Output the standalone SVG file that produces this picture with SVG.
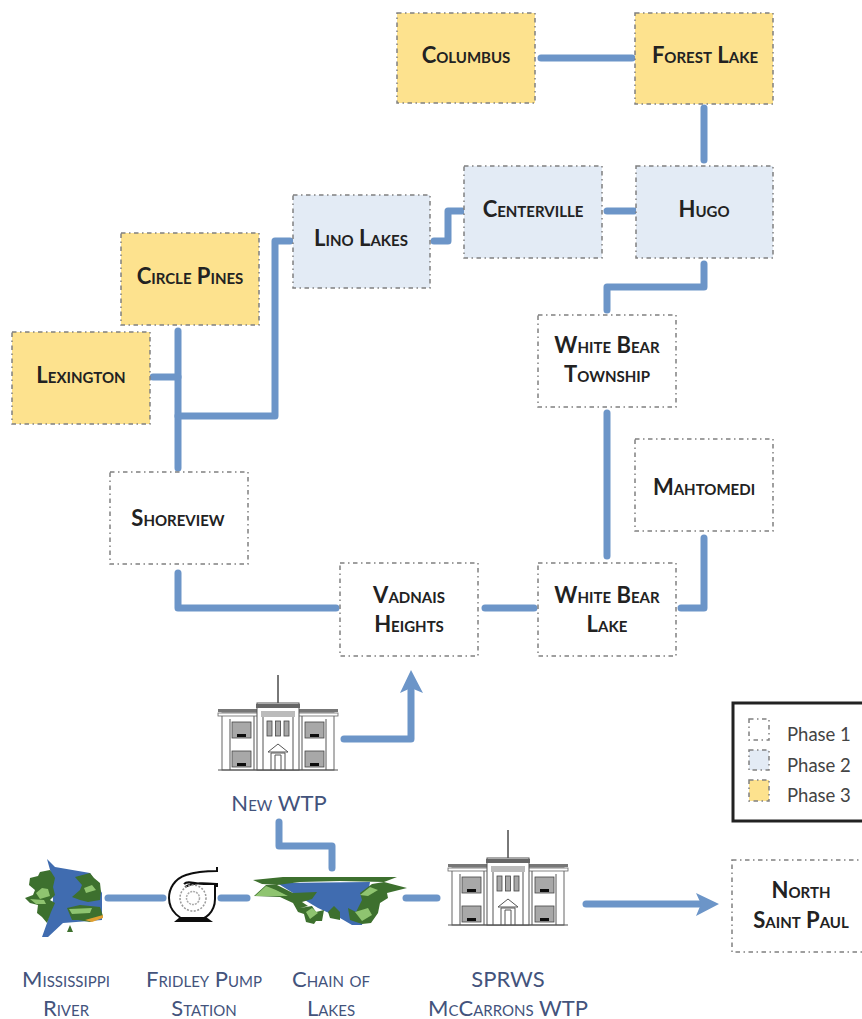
<svg xmlns="http://www.w3.org/2000/svg" width="862" height="1019" viewBox="0 0 862 1019">
<style>
.box{stroke:#808080;stroke-width:1.5;stroke-dasharray:4.5 3.5 1.5 3.5}
.p1{fill:#fff}.p2{fill:#e3ebf5}.p3{fill:#fde28e}
.t{font-family:Lato,"Liberation Sans",sans-serif;font-weight:700;font-variant:small-caps;font-size:22px;fill:#222;text-anchor:middle}
.l{font-family:Lato,"Liberation Sans",sans-serif;font-variant:small-caps;font-size:22px;fill:#43537c;text-anchor:middle}
.k{font-family:Lato,"Liberation Sans",sans-serif;font-size:18.5px;fill:#444}
.c{fill:none;stroke:#6c95c8;stroke-width:7;stroke-linecap:round;stroke-linejoin:round}
.b{fill:none;stroke:#555;stroke-width:1}
.w{fill:#a8a8a8;stroke:#444;stroke-width:.8}
.dg{fill:#3d6f2d}.lg{fill:#8fc46f}.bl{fill:#3f6cb0}
</style>
<defs>
<filter id="soft" x="-5%" y="-5%" width="110%" height="110%"><feGaussianBlur stdDeviation="0.45"/></filter>
<g id="building" filter="url(#soft)">
<path d="M60 0V29" stroke="#555" stroke-width="1.6"/>
<rect x="4" y="38" width="112" height="57" fill="#fff" stroke="#666"/>
<rect x="0" y="34" width="120" height="3" fill="#777"/><rect x="0" y="38" width="120" height="3" fill="#fff" stroke="#666" stroke-width=".8"/>
<rect x="39" y="28" width="42" height="67" fill="#fff" stroke="#555"/>
<rect x="38" y="29" width="44" height="4" fill="#666"/>
<path class="b" d="M0 95H120M12 44V95M108 44V95M36 41V95M84 41V95M45 36V95M75 36V95"/>
<rect x="43" y="36" width="34" height="6" fill="#bbb"/>
<rect class="w" x="14" y="47" width="19" height="16"/><rect class="w" x="87" y="47" width="19" height="16"/>
<rect class="w" x="14" y="76" width="19" height="16"/><rect class="w" x="87" y="76" width="19" height="16"/>
<rect x="19" y="59" width="9" height="3" fill="#111"/><rect x="92" y="59" width="9" height="3" fill="#111"/>
<rect x="19" y="88" width="9" height="3" fill="#111"/><rect x="92" y="88" width="9" height="3" fill="#111"/>
<rect class="w" x="49" y="46" width="5" height="15"/><rect class="w" x="57.500" y="46" width="5" height="15"/><rect class="w" x="66" y="46" width="5" height="15"/>
<path class="b" d="M50 77L60 69L70 77ZM53 95V78H67V95M57 95V80H63V95"/>
</g>
</defs>

<g id="connectors">
<path class="c" d="M541 58H632"/>
<path class="c" d="M704 108V160"/>
<path class="c" d="M607 211H634"/>
<path class="c" d="M434 241H448V211H462"/>
<path class="c" d="M704 264V287H607V310"/>
<path class="c" d="M607 413V556"/>
<path class="c" d="M704 538V608H681"/>
<path class="c" d="M485 608H534"/>
<path class="c" d="M336 608H178V573"/>
<path class="c" d="M178 331V468"/>
<path class="c" d="M153 377H178"/>
<path class="c" d="M178 416H275V241H290"/>
<path class="c" d="M344 739H411V690"/>
<path d="M411 670L423 693L411 688L400 693Z" fill="#6c95c8"/>
<path class="c" d="M279 822V846H332V868"/>
<path class="c" d="M108 898H163"/>
<path class="c" d="M221 898H247"/>
<path class="c" d="M406 898H437"/>
<path class="c" d="M586 904H702"/>
<path d="M719 904L696 893L701 904L696 916Z" fill="#6c95c8"/>
</g>

<g id="columbus"><rect class="box p3" x="397" y="13" width="138" height="90"/><text class="t" x="466" y="63">Columbus</text></g>
<g id="forest-lake"><rect class="box p3" x="635" y="13" width="138" height="91"/><text class="t" x="705" y="63">Forest Lake</text></g>
<g id="centerville"><rect class="box p2" x="464" y="166" width="138" height="92"/><text class="t" x="533" y="217">Centerville</text></g>
<g id="hugo"><rect class="box p2" x="636" y="166" width="137" height="92"/><text class="t" x="704" y="217">Hugo</text></g>
<g id="lino-lakes"><rect class="box p2" x="293" y="195" width="137" height="93"/><text class="t" x="361" y="246">Lino Lakes</text></g>
<g id="circle-pines"><rect class="box p3" x="121" y="233" width="138" height="92"/><text class="t" x="190" y="284">Circle Pines</text></g>
<g id="lexington"><rect class="box p3" x="12" y="332" width="138" height="92"/><text class="t" x="81" y="383">Lexington</text></g>
<g id="white-bear-township"><rect class="box p1" x="538" y="315" width="138" height="92"/><text class="t" x="607" y="353">White Bear</text><text class="t" x="607" y="382">Township</text></g>
<g id="mahtomedi"><rect class="box p1" x="635" y="439" width="138" height="92"/><text class="t" x="704" y="495">Mahtomedi</text></g>
<g id="shoreview"><rect class="box p1" x="110" y="472" width="138" height="92"/><text class="t" x="178" y="526">Shoreview</text></g>
<g id="vadnais-heights"><rect class="box p1" x="340" y="563" width="138" height="93"/><text class="t" x="409" y="603">Vadnais</text><text class="t" x="409" y="632">Heights</text></g>
<g id="white-bear-lake"><rect class="box p1" x="538" y="563" width="138" height="93"/><text class="t" x="607" y="603">White Bear</text><text class="t" x="607" y="632">Lake</text></g>
<g id="north-saint-paul"><rect class="box p1" x="732" y="860" width="140" height="92"/><text class="t" x="801" y="898">North</text><text class="t" x="801" y="928">Saint Paul</text></g>

<g id="new-wtp"><use href="#building" x="218" y="675"/><text class="l" x="279" y="811">New WTP</text></g>
<g id="sprws"><use href="#building" x="448" y="830"/><text class="l" x="508" y="987">SPRWS</text><text class="l" x="508" y="1016">McCarrons WTP</text></g>

<g id="mississippi-river">
<g filter="url(#soft)">
<path class="bl" d="M47 859L55 867L90 873L102 893L102 920L63 923L48 937L42 937L47 923L53 900L52 877Z"/>
<path class="dg" d="M30 878L38 876L40 872L50 870L55 878L53 887L55 895L50 900L55 903L51 912L47 923L42 917L37 913L38 905L30 903L25 898L33 895L35 890L29 885Z"/>
<path class="dg" d="M75 877L90 873L94 878L100 883L101 892L100 900L88 902L80 900L72 897L80 890L82 885ZM67 908L80 905L100 907L103 916L90 922L78 920L72 920Z"/>
<path class="lg" d="M36 893L42 888L48 889L50 896L40 899ZM30 899L44 900L46 904L36 904ZM84 888L92 885L96 890L86 893ZM69 909L92 908L90 913L72 914Z"/>
<path class="dg" d="M70 925L73 932H67Z"/>
<path fill="#e0a030" d="M85 920L103 915V918L92 922Z"/>
</g>
<text class="l" x="66" y="987">Mississippi</text><text class="l" x="66" y="1016">River</text></g>

<g id="fridley-pump-station">
<g filter="url(#soft)" fill="none" stroke="#111">
<path stroke-width="2" d="M217 867V871C205 871 195 872 186 875C174 879 169 889 169 898C169 911 180 921 193 921C206 921 215 911 215 899V886H217V884H204C195 884 188 880 184 884M217 884C205 883 194 882 185 887"/>
<circle cx="193" cy="898" r="13" stroke="#999" stroke-width="1.5" stroke-dasharray="2 1.500"/>
<circle cx="193" cy="898" r="6.500" stroke="#aaa" stroke-width="1.500" stroke-dasharray="2 1"/>
<path fill="#111" stroke="none" d="M174 922L180 917H206L213 922Z"/>
</g>
<text class="l" x="204" y="987">Fridley Pump</text><text class="l" x="204" y="1016">Station</text></g>

<g id="chain-of-lakes">
<g filter="url(#soft)">
<path class="bl" d="M277 883L370 882L362 925L352 925L340 918L318 908L293 893Z"/>
<path class="dg" d="M253 880L283 877L397 877L384 882L340 881L300 882L277 885L262 884Z"/>
<path class="dg" d="M254 896L266 885L277 885L293 893L317 892L312 899L302 902L308 906L300 908L312 906L316 912L324 910L322 921L316 921L314 924L306 922L304 914L298 912L293 903L280 897Z"/>
<path class="dg" d="M360 893L372 884L384 882L407 888L387 893L388 898L380 903L378 913L371 923L362 924L350 920L348 908L356 912L362 900Z"/>
<path class="dg" d="M328 912L334 906L340 912L340 920L330 918Z"/>
<path class="lg" d="M255 896L266 886L276 890L288 896L270 896ZM360 895L370 887L378 890L368 896ZM355 912L368 908L372 915L362 921ZM306 912L312 908L318 913L310 919Z"/>
</g>
<text class="l" x="331" y="987">Chain of</text><text class="l" x="331" y="1016">Lakes</text></g>

<g id="legend">
<rect x="733" y="703" width="135" height="118" fill="#fff" stroke="#222" stroke-width="3"/>
<rect class="box p1" x="749" y="719" width="20" height="21"/>
<rect class="box p2" x="749" y="750" width="20" height="20"/>
<rect class="box p3" x="749" y="780" width="20" height="21"/>
<text class="k" x="787" y="741">Phase 1</text>
<text class="k" x="787" y="772">Phase 2</text>
<text class="k" x="787" y="802">Phase 3</text>
</g>
</svg>
